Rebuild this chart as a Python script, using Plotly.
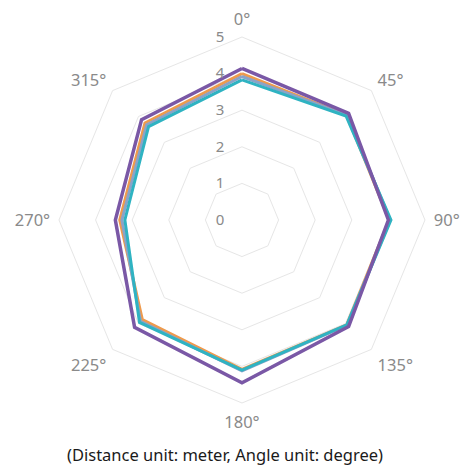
import plotly.graph_objects as go

# Radar chart of distances per bearing, four series

angles = ["0°", "45°", "90°", "135°", "180°", "225°", "270°", "315°"]

series_names = ["Series 1", "Series 2", "Series 3", "Series 4"]
orange_vals = [4.00, 4.05, 4.02, 4.05, 4.08, 3.85, 3.34, 3.75]
blue_vals = [3.92, 4.05, 4.05, 4.06, 4.12, 3.92, 3.28, 3.68]
teal_vals = [3.83, 4.02, 4.07, 4.05, 4.10, 3.96, 3.20, 3.61]
purple_vals = [4.14, 4.12, 4.00, 4.12, 4.45, 4.15, 3.46, 3.88]

radial_ticks = [0, 1, 2, 3, 4, 5]

colors = ["#EE9A4D", "#8AA3C8", "#2FB3C2", "#7A58A6"]
widths = [3, 3, 3, 3.5]

fig = go.Figure()
for name, vals, col, w in zip(
    series_names,
    [orange_vals, blue_vals, teal_vals, purple_vals],
    colors,
    widths,
):
    fig.add_trace(
        go.Scatterpolar(
            r=vals + vals[:1],
            theta=angles + angles[:1],
            mode="lines",
            name=name,
            line=dict(color=col, width=w),
        )
    )

fig.update_layout(
    width=470,
    height=470,
    margin=dict(l=0, r=0, t=0, b=0),
    paper_bgcolor="white",
    plot_bgcolor="white",
    showlegend=False,
    font=dict(family="Noto Sans", color="#8A8A8A"),
    polar=dict(
        domain=dict(x=[0.1085, 0.8872], y=[0.1596, 0.9383]),
        gridshape="linear",
        bgcolor="white",
        radialaxis=dict(
            range=[0, 5],
            tickvals=radial_ticks,
            angle=90,
            side="counterclockwise",
            tickangle=90,
            showline=False,
            ticks="outside",
            ticklen=12,
            tickcolor="rgba(0,0,0,0)",
            gridcolor="#E6E6E6",
            gridwidth=1,
            tickfont=dict(size=15, color="#8A8A8A"),
        ),
        angularaxis=dict(
            rotation=90,
            direction="clockwise",
            showgrid=False,
            linecolor="#E6E6E6",
            linewidth=1,
            ticks="outside",
            ticklen=5,
            tickcolor="rgba(0,0,0,0)",
            tickfont=dict(size=16.5, color="#8A8A8A"),
        ),
    ),
    annotations=[
        dict(
            text="(Distance unit: meter, Angle unit: degree)",
            x=0.462,
            y=0.022,
            xref="paper",
            yref="paper",
            showarrow=False,
            font=dict(size=16.5, color="#1A1A1A", family="Noto Sans"),
        )
    ],
)

fig.write_html("out.html")
